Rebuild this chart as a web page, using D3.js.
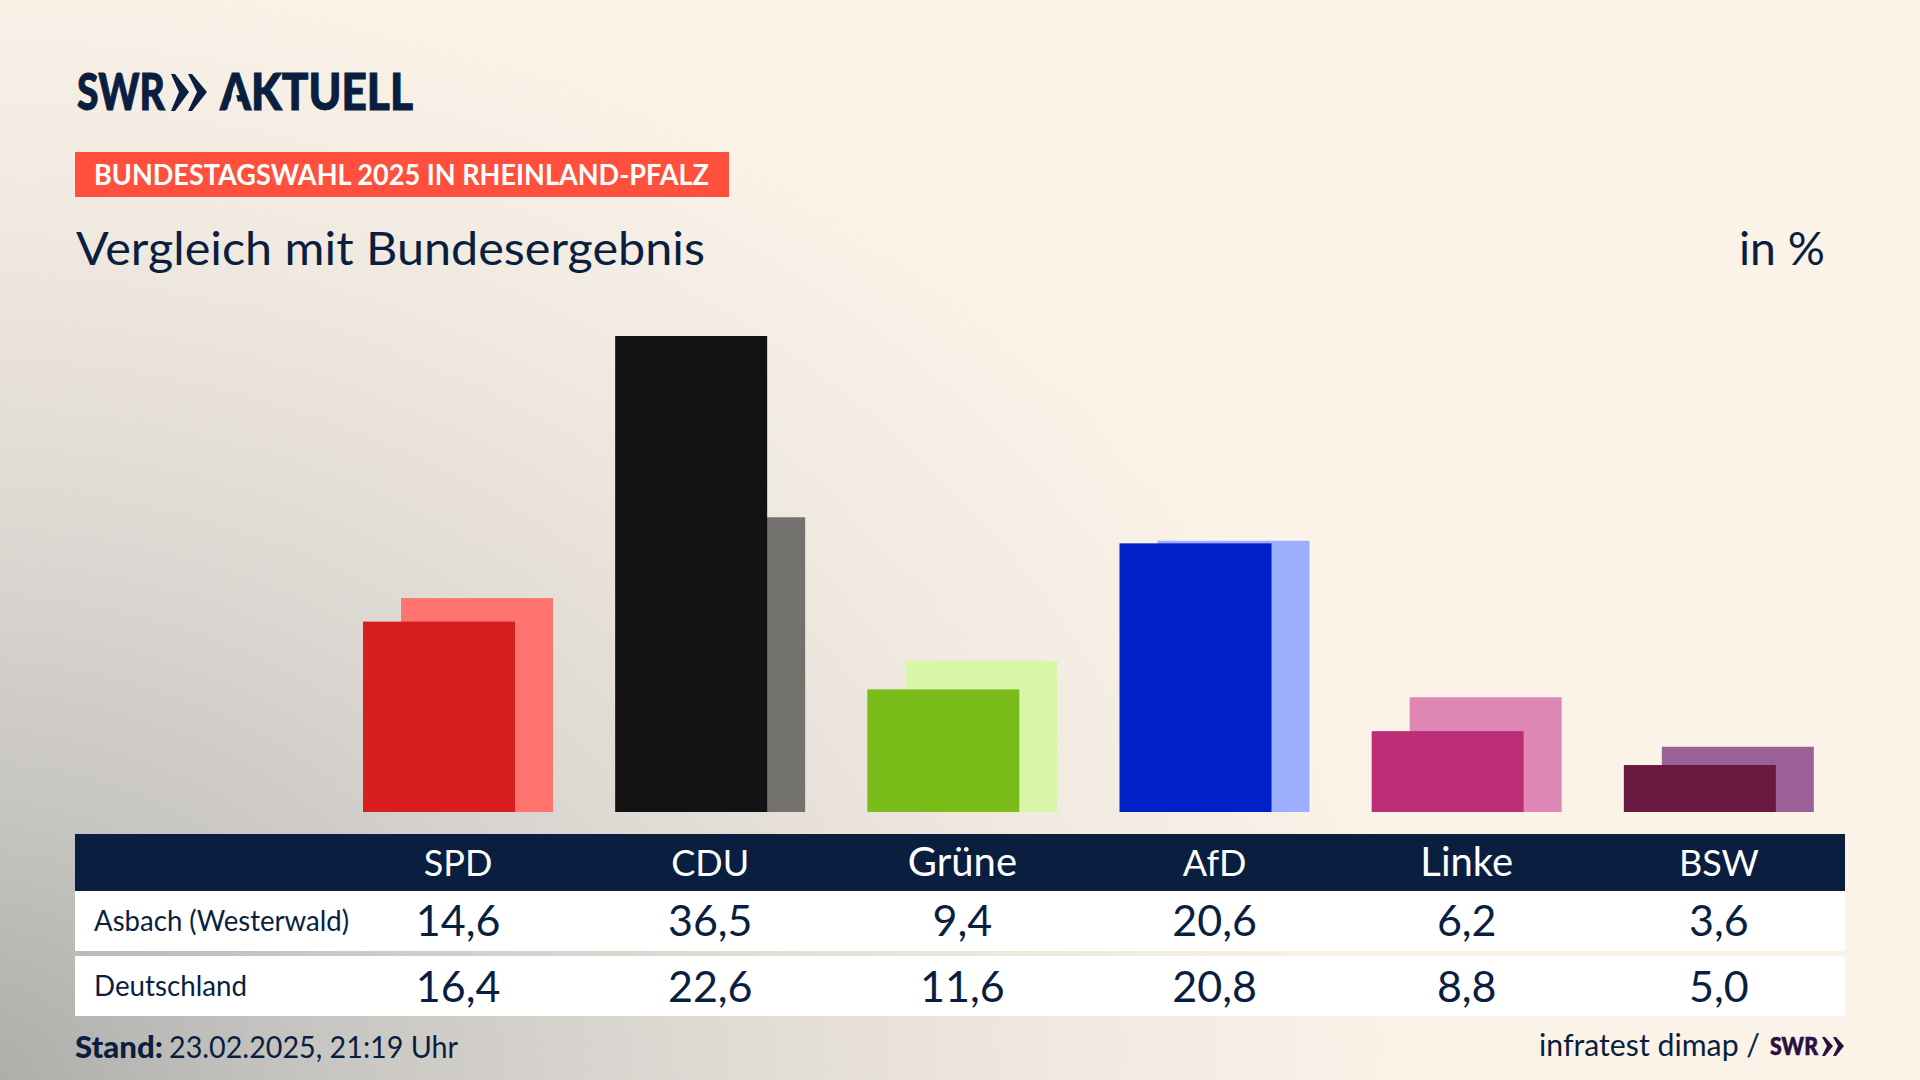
<!DOCTYPE html>
<html>
<head>
<meta charset="utf-8">
<title>Vergleich mit Bundesergebnis</title>
<script src="https://cdn.jsdelivr.net/npm/d3@7"></script>
<style>
  html, body { margin: 0; padding: 0; background: #fbf3e8; }
  svg { display: block; }
  text { font-family: "Lato", "Open Sans", sans-serif; fill: #0a1f3f; }
</style>
</head>
<body>
<svg id="chart" width="1920" height="1080"></svg>
<script>
// values
var parties = ["SPD", "CDU", "Grüne", "AfD", "Linke", "BSW"];
var asbach = [14.6, 36.5, 9.4, 20.6, 6.2, 3.6];
var deutschland = [16.4, 22.6, 11.6, 20.8, 8.8, 5.0];
var rowLabels = ["Asbach (Westerwald)", "Deutschland"];

var frontColors = ["#d81f1e", "#121212", "#7abc1a", "#0020c8", "#bc2e75", "#6a1a40"];
var backColors = ["#ff746e", "#73726f", "#d8f5a9", "#9daeff", "#df88b6", "#9b6098"];

var navy = "#0a1f3f";
var svg = d3.select("#chart");
var defs = svg.append("defs");

// background: cream with the grey glow from the lower left corner
var glow = defs.append("radialGradient")
  .attr("id", "glow")
  .attr("gradientUnits", "userSpaceOnUse")
  .attr("cx", 0).attr("cy", 0).attr("r", 1)
  .attr("gradientTransform", "translate(-60,1100) scale(1560,1220)");
[[0, "#a9a9a6"], [0.25, "#c8c6c2"], [0.5, "#dfdad4"], [0.72, "#f0e9e0"], [0.95, "#fbf3e8"], [1, "#fbf3e8"]].forEach(function(s) {
  glow.append("stop").attr("offset", s[0]).attr("stop-color", s[1]);
});
svg.append("rect").attr("width", 1920).attr("height", 1080).attr("fill", "url(#glow)");

// scales
var x = d3.scaleBand().domain(parties).range([332, 1845]);
var y = d3.scaleLinear().domain([0, 36.5]).range([812, 336]);
var germanFormat = d3.formatLocale({ decimal: ",", thousands: ".", grouping: [3], currency: ["", " €"] }).format(".1f");

function place(sel, px, py, size, weight, anchor) {
  return sel.attr("x", px).attr("y", py)
    .style("font-size", size + "px")
    .style("font-weight", weight)
    .attr("text-anchor", anchor || "start");
}

function squeeze(sel, width) {
  return sel.attr("textLength", width).attr("lengthAdjust", "spacingAndGlyphs");
}

// logo
var logo = svg.append("g").attr("class", "logo");
squeeze(place(logo.append("text").text("SWR"), 77, 110, 51, 900), 88).style("stroke", navy).style("stroke-width", 1);
logo.append("path").attr("fill", navy)
  .attr("d", "M171 74 L175 74 L189 92 L175 111 L171 111 L179 92 Z M188 74 L192 74 L207 92 L192 111 L188 111 L197 92 Z");
squeeze(place(logo.append("text").text("AKTUELL"), 220, 110, 51, 900), 193).style("stroke", navy).style("stroke-width", 1);
// the logo's A has no crossbar
logo.append("path").attr("fill", "url(#glow)").attr("d", "M234 86 L228 111 L240 111 Z");

// header
svg.append("rect").attr("x", 75).attr("y", 152).attr("width", 654).attr("height", 45).attr("fill", "#ff4f3d");
squeeze(place(svg.append("text").text("BUNDESTAGSWAHL 2025 IN RHEINLAND-PFALZ"), 94, 185, 28, 700), 615)
  .style("fill", "#fff");
squeeze(place(svg.append("text").text("Vergleich mit Bundesergebnis"), 76, 265, 46, 400), 629);
squeeze(place(svg.append("text").text("in %"), 1739, 265, 46, 400), 86);

// bars, Deutschland behind, Asbach in front
var bars = svg.append("g").attr("class", "bars");
bars.selectAll("rect.back").data(deutschland).enter().append("rect")
  .attr("class", "back")
  .attr("x", function(d, i) { return x(parties[i]) + 69; })
  .attr("y", function(d) { return y(d); })
  .attr("width", 152)
  .attr("height", function(d) { return y(0) - y(d); })
  .attr("fill", function(d, i) { return backColors[i]; });
bars.selectAll("rect.front").data(asbach).enter().append("rect")
  .attr("class", "front")
  .attr("x", function(d, i) { return x(parties[i]) + 31; })
  .attr("y", function(d) { return y(d); })
  .attr("width", 152)
  .attr("height", function(d) { return y(0) - y(d); })
  .attr("fill", function(d, i) { return frontColors[i]; });

// table
svg.append("rect").attr("x", 75).attr("y", 834).attr("width", 1770).attr("height", 57).attr("fill", navy);
svg.append("rect").attr("x", 75).attr("y", 891).attr("width", 1770).attr("height", 60).attr("fill", "#fff");
svg.append("rect").attr("x", 75).attr("y", 956).attr("width", 1770).attr("height", 60).attr("fill", "#fff");

var center = function(p) { return x(p) + x.bandwidth() / 2; };
svg.selectAll("text.party").data(parties).enter().append("text")
  .attr("class", "party")
  .text(function(d) { return d; })
  .attr("x", center).attr("y", 876)
  .attr("text-anchor", "middle")
  .style("font-size", function(d) { return (d == "Grüne" || d == "Linke") ? "40px" : "36px"; })
  .style("fill", "#fff");

squeeze(place(svg.append("text").text(rowLabels[0]), 94, 931, 28, 400), 255);
squeeze(place(svg.append("text").text(rowLabels[1]), 94, 996, 28, 400), 153);

[[asbach, 936], [deutschland, 1002]].forEach(function(row) {
  svg.append("g").selectAll("text").data(row[0]).enter().append("text")
    .text(function(d) { return germanFormat(d); })
    .attr("x", function(d, i) { return center(parties[i]); })
    .attr("y", row[1])
    .attr("text-anchor", "middle")
    .style("font-size", "43px");
});

// footer
squeeze(place(svg.append("text").text("Stand:"), 75, 1058, 30, 900), 88);
squeeze(place(svg.append("text").text("23.02.2025, 21:19 Uhr"), 169, 1058, 30, 400), 289);
squeeze(place(svg.append("text").text("infratest dimap /"), 1539, 1056, 30, 400), 221);
squeeze(place(svg.append("text").text("SWR"), 1770, 1055, 24, 900), 48).style("fill", "#2a1040").style("stroke", "#2a1040").style("stroke-width", 0.6);
svg.append("path").attr("fill", "#2a1040")
  .attr("d", "M1822 1037 L1825 1037 L1833 1046 L1825 1056 L1822 1056 L1827 1046 Z M1833 1037 L1836 1037 L1844 1046 L1836 1056 L1833 1056 L1838 1046 Z");
</script>
</body>
</html>
